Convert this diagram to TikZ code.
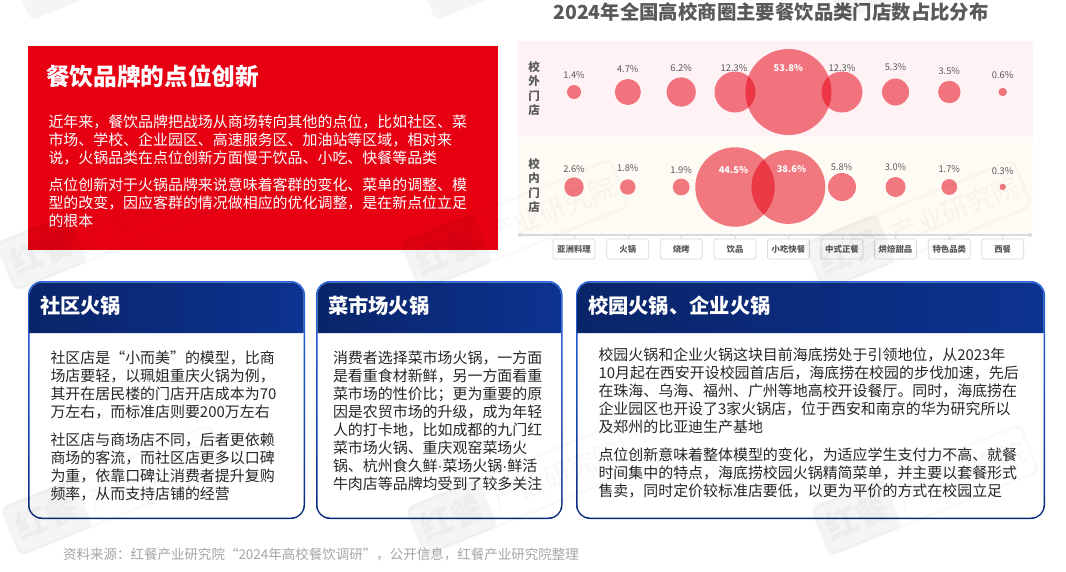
\documentclass[tikz,border=0pt]{standalone}
\usepackage{fontspec}
\setmainfont{Noto Sans CJK SC}
\newfontfamily\latinfont{Liberation Sans}
\usetikzlibrary{positioning}
\definecolor{brandred}{HTML}{E60012}
\definecolor{bandpink}{HTML}{FEF2F4}
\definecolor{bandcream}{HTML}{FEFBF4}
\definecolor{titlegrey}{HTML}{595959}
\definecolor{srcgrey}{HTML}{A6A6A6}
\definecolor{bodyink}{HTML}{262626}
\definecolor{edgetop}{HTML}{2464E0}
\definecolor{edgebot}{HTML}{0B2A78}
\definecolor{hdrleft}{HTML}{0A2468}
\definecolor{hdrright}{HTML}{0C3390}
\definecolor{axisgrey}{HTML}{D9D9D9}
\newcommand{\fs}[2]{\fontsize{#1}{#2}\selectfont}
\newcommand{\middot}{{\latinfont ·}}
\tikzset{
  every node/.style={inner sep=0pt,outer sep=0pt},
  bubble/.style={circle,fill=brandred,fill opacity=.52,draw=none},
  pct/.style={font=\fs{9.3}{11},text=titlegrey},
  pcthi/.style={font=\bfseries\fs{9.3}{11},text=white},
  catbox/.style={draw=axisgrey,line width=.8pt,rounded corners=2.5pt,minimum width=42pt,minimum height=20pt,fill=white,font=\bfseries\fs{8.4}{10},text=titlegrey},
  rowlab/.style={font=\bfseries\fs{11.5}{14.4},text=titlegrey,align=center,text width=12pt},
  para/.style={anchor=north west,align=left,font=\fs{14.95}{18},text=bodyink},
  parawhite/.style={anchor=north west,align=left,font=\fs{14.95}{18},text=white},
  cardouter/.style={anchor=north west,rounded corners=14pt,top color=edgetop,bottom color=edgebot,middle color=edgetop!60!edgebot},
  cardinner/.style={anchor=north west,rounded corners=12.5pt,fill=white},
  hdr/.style={left color=hdrleft,right color=hdrright},
  cardtitle/.style={anchor=west,font=\bfseries\fs{20.3}{24},text=white},
  stampbox/.style={rounded corners=7pt,rotate=22,fill=black,opacity=.04,minimum width=78pt,minimum height=52pt},
  stampword/.style={rounded corners=7pt,rotate=22,draw=black,line width=3pt,opacity=.022,minimum width=225pt,minimum height=50pt},
  stamptext/.style={rotate=22,text=black,opacity=.032,font=\fs{27}{30}},
  stampmark/.style={rotate=22,text=white,opacity=.8,font=\bfseries\fs{32}{36}},
}
\begin{document}
\begin{tikzpicture}[x=1pt,y=-1pt]
\useasboundingbox (0,0) rectangle (1066,571);
\fill[white] (0,0) rectangle (1066,571);

% chart title
\node[font=\bfseries\fs{19.4}{24},text=titlegrey] (charttitle) at (771,12) {2024年全国高校商圈主要餐饮品类门店数占比分布};

% chart bands
\node[anchor=north west,fill=bandpink,minimum width=515pt,minimum height=96pt] (bandout) at (518,41) {};
\node[anchor=north west,fill=bandcream,minimum width=515pt,minimum height=97pt] (bandin) at (518,137) {};
\node[rowlab] (rowout) at (534,88.5) {校\\外\\门\\店};
\node[rowlab] (rowin) at (534,185.5) {校\\内\\门\\店};

% axis
\coordinate (axl) at (520,235);
\coordinate (axr) at (1030,235);
\draw[axisgrey,line width=1.2pt] (axl) -- (axr);
\fill[axisgrey] (axl) circle (2);
\fill[axisgrey] (axr) circle (2);

% bubbles, row outside
\foreach \id/\x/\r in {a/574/7,b/627.8/13,c/681.2/14.6,d/735/20.5,f/842/20.5,g/895.5/13.5,h/949.3/11.2,i/1002.7/4.2}{
  \node[bubble,minimum size=2*\r pt] (o\id) at (\x,92) {};
}
\node[bubble,minimum size=86pt] (oe) at (788.4,92) {};
% bubbles, row inside
\foreach \id/\x/\r in {a/574/9.7,b/627.8/7.7,c/681.2/8.4,d/735/39.7,e/788.4/36.9,f/842/14,g/895.5/10,h/949.3/7.9,i/1002.7/3.2}{
  \node[bubble,minimum size=2*\r pt] (n\id) at (\x,187) {};
}
% percentage labels
\foreach \id/\x/\ly/\t in {a/574/75/1.4\%,b/627.8/69/4.7\%,c/681.2/68/6.2\%,d/734/68/12.3\%,f/842/68/12.3\%,g/895.5/67/5.3\%,h/949.3/71/3.5\%,i/1002.7/75/0.6\%}{
  \node[pct] (lo\id) at (\x,\ly) {\t};
}
\node[pcthi] (loe) at (788.4,68) {53.8\%};
\foreach \id/\x/\ly/\t in {a/574/169/2.6\%,b/627.8/168/1.8\%,c/681.2/170/1.9\%,f/841.5/167/5.8\%,g/895.5/167/3.0\%,h/949.3/169/1.7\%,i/1002.7/171/0.3\%}{
  \node[pct] (ln\id) at (\x,\ly) {\t};
}
\node[pcthi] (lnd) at (733.5,170) {44.5\%};
\node[pcthi] (lne) at (791.5,169) {38.6\%};

% category boxes
\foreach \id/\x/\t in {a/574/亚洲料理,b/627.8/火锅,c/681.2/烧烤,d/735/饮品,e/788.4/小吃快餐,f/842/中式正餐,g/895.5/烘焙甜品,h/949.3/特色品类,i/1002.7/西餐}{
  \coordinate (tick\id) at (\x,235);
  \node[catbox] (cat\id) at (\x,249) {\t};
  \draw[axisgrey,line width=.6pt] (tick\id) -- (cat\id.north);
}

% red panel
\node[anchor=north west,fill=brandred,minimum width=470pt,minimum height=204pt] (redpanel) at (28,46) {};
\node[anchor=west,font=\bfseries\fs{23.7}{28},text=white] (redtitle) at (46,76) {餐饮品牌的点位创新};
\node[parawhite] (redp1) at (48.5,115) {近年来，餐饮品牌把战场从商场转向其他的点位，比如社区、菜\\市场、学校、企业园区、高速服务区、加油站等区域，相对来\\说，火锅品类在点位创新方面慢于饮品、小吃、快餐等品类};
\node[parawhite] (redp2) at (48.5,178) {点位创新对于火锅品牌来说意味着客群的变化、菜单的调整、模\\型的改变，因应客群的情况做相应的优化调整，是在新点位立足\\的根本};

% card 1
\node[cardouter,minimum width=277pt,minimum height=238pt] (card1) at (28,281) {};
\node[cardinner,minimum width=274pt,minimum height=235pt] (card1in) at (29.5,282.5) {};
\path[hdr] (29.5,333) [rounded corners=12.5pt] -- (29.5,282.5) -- (303.5,282.5) [sharp corners] -- (303.5,333) -- cycle;
\node[cardtitle] (card1t) at (40,306) {社区火锅};
\node[para] (c1p1) at (50.5,351) {社区店是“小而美”的模型，比商\\场店要轻，以珮姐重庆火锅为例，\\其开在居民楼的门店开店成本为70\\万左右，而标准店则要200万左右};
\node[para] (c1p2) at (50.5,433) {社区店与商场店不同，后者更依赖\\商场的客流，而社区店更多以口碑\\为重，依靠口碑让消费者提升复购\\频率，从而支持店铺的经营};

% card 2
\node[cardouter,minimum width=246.5pt,minimum height=238pt] (card2) at (316,281) {};
\node[cardinner,minimum width=243.5pt,minimum height=235pt] (card2in) at (317.5,282.5) {};
\path[hdr] (317.5,333) [rounded corners=12.5pt] -- (317.5,282.5) -- (561,282.5) [sharp corners] -- (561,333) -- cycle;
\node[cardtitle] (card2t) at (328,306) {菜市场火锅};
\node[para] (c2p1) at (333,351) {消费者选择菜市场火锅，一方面\\是看重食材新鲜，另一方面看重\\菜市场的性价比；更为重要的原\\因是农贸市场的升级，成为年轻\\人的打卡地，比如成都的九门红\\菜市场火锅、重庆观窑菜场火\\锅、杭州食久鲜\middot 菜场火锅\middot 鲜活\\牛肉店等品牌均受到了较多关注};

% card 3
\node[cardouter,minimum width=469pt,minimum height=238pt] (card3) at (576,281) {};
\node[cardinner,minimum width=466pt,minimum height=235pt] (card3in) at (577.5,282.5) {};
\path[hdr] (577.5,333) [rounded corners=12.5pt] -- (577.5,282.5) -- (1043.5,282.5) [sharp corners] -- (1043.5,333) -- cycle;
\node[cardtitle] (card3t) at (588,306) {校园火锅、企业火锅};
\node[para] (c3p1) at (598.5,348) {校园火锅和企业火锅这块目前海底捞处于引领地位，从2023年\\10月起在西安开设校园首店后，海底捞在校园的步伐加速，先后\\在珠海、乌海、福州、广州等地高校开设餐厅。同时，海底捞在\\企业园区也开设了3家火锅店，位于西安和南京的华为研究所以\\及郑州的比亚迪生产基地};
\node[para] (c3p2) at (598.5,448) {点位创新意味着整体模型的变化，为适应学生支付力不高、就餐\\时间集中的特点，海底捞校园火锅精简菜单，并主要以套餐形式\\售卖，同时定价较标准店要低，以更为平价的方式在校园立足};

% source
\node[anchor=west,font=\fs{13.5}{16},text=srcgrey] (source) at (63,554) {资料来源：红餐产业研究院“2024年高校餐饮调研”，公开信息，红餐产业研究院整理};

% watermarks: the top row only shows the lower corner of each stamp
\foreach \n/\cx/\cy in {a/125/-45,b/530/-45,c/935/-45}{
  \begin{scope}[shift={(\cx,\cy)}]
    \node[stampbox] (wb\n) at (-68,27) {};
  \end{scope}
}
\foreach \n/\cx/\cy in {d/110/225,e/515/225,f/918/225,g/115/490,h/520/490,i/925/490}{
  \begin{scope}[shift={(\cx,\cy)}]
    \node[stampword] (w\n) at (0,0) {};
    \node[stampbox] (wb\n) at (-68,27) {};
    \node[stamptext,font=\bfseries\fs{32}{36}] (wr\n) at (-68,27) {红餐};
    \node[stamptext] (wt\n) at (37,-15) {产业研究院};
  \end{scope}
}
\end{tikzpicture}
\end{document}
